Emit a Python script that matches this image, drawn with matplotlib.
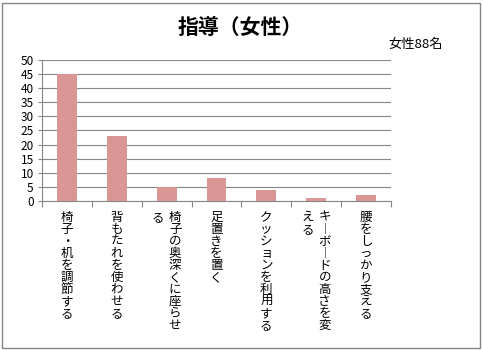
import matplotlib.pyplot as plt
from matplotlib.patches import Rectangle
import matplotlib.transforms as mtransforms

plt.rcParams['font.family'] = ['Noto Sans CJK JP', 'DejaVu Sans']

# data
categories = ['椅子・机を調節する', '背もたれを使わせる', '椅子の奥深くに座らせる',
              '足置きを置く', 'クッションを利用する', 'キーボードの高さを変える',
              '腰をしっかり支える']
# label columns (vertical text wraps after 10 chars)
label_cols = [['椅子・机を調節する'], ['背もたれを使わせる'], ['椅子の奥深くに座らせ', 'る'],
              ['足置きを置く'], ['クッションを利用する'], ['キ︱ボ︱ドの高さを変', 'える'],
              ['腰をしっかり支える']]
values = [45, 23, 5, 8, 4, 1, 2]
yticks = list(range(0, 51, 5))

fig = plt.figure(figsize=(4.83, 3.5), dpi=100)
ax = fig.add_axes([0.087, 0.4257, 0.7225, 0.4029])

x = list(range(len(categories)))
ax.bar(x, values, width=0.4, color='#D99694', zorder=3)

ax.set_xlim(-0.5, len(categories) - 0.5)
ax.set_ylim(0, 50)
ax.set_yticks(yticks)
ax.tick_params(axis='y', labelsize=8.5, length=3, color='#868686', pad=3)
ax.set_xticks([i - 0.5 for i in range(len(categories) + 1)])
ax.set_xticklabels([])
ax.tick_params(axis='x', length=4, color='#868686')
ax.grid(axis='y', color='#868686', linewidth=0.8, zorder=0)
for s in ['top', 'right']:
    ax.spines[s].set_visible(False)
for s in ['left', 'bottom']:
    ax.spines[s].set_color('#868686')

# vertical category labels
trans = mtransforms.blended_transform_factory(ax.transData, ax.transAxes)
for i, cols in enumerate(label_cols):
    n = len(cols)
    for j, col in enumerate(cols):
        # first column on the right, next ones to the left
        off = (n - 1) / 2 * 0.34 - j * 0.34
        ax.text(i + off, -0.07, '\n'.join(col), transform=trans, ha='center', va='top',
                fontsize=9, linespacing=0.9)

fig.text(0.497, 0.923, '指導（女性）', ha='center', va='center', fontsize=15, fontweight='bold')
fig.text(0.86, 0.872, '女性88名', ha='center', va='center', fontsize=9.5)

fig.patches.append(Rectangle((0.004, 0.006), 0.99, 0.986, transform=fig.transFigure,
                             fill=False, edgecolor='#868686', linewidth=1))

fig.savefig('out.png', dpi=100)
